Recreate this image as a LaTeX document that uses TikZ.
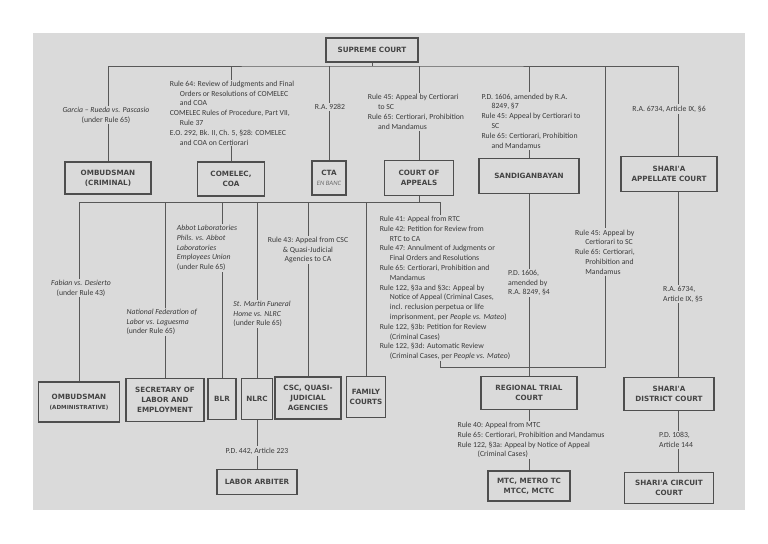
\documentclass[tikz,border=0pt]{standalone}
\usepackage{fontspec}
\setmainfont{Carlito}
\newfontfamily\boxfont{DejaVu Sans}
\definecolor{paper}{HTML}{DADADA}
\definecolor{ink}{HTML}{3A3A3A}
\newcommand{\hi}{\hspace*{1.3em}}

\begin{document}
\begin{tikzpicture}[
        x=0.75pt, y=-0.75pt,
        box/.style = {draw=ink!90, line width=1.1pt, fill=paper, align=center, inner sep=1pt, text=ink!95, font=\boxfont\bfseries\fontsize{5.4}{7.4}\selectfont},
        sz/.style 2 args = {minimum width=#1*0.75pt, minimum height=#2*0.75pt},
        lbl/.style = {fill=paper, inner sep=1pt, align=left, text=ink, font=\fontsize{5.8}{7.35}\selectfont},
        link/.style = {draw=ink!85, line width=0.7pt}
    ]

    \useasboundingbox (0,0) rectangle (768,543);
    \fill[white] (0,0) rectangle (768,543);
    \fill[paper] (33,33) rectangle (745,510);

    % courts
    \node[box, sz={92}{24}] (sc) at (372,50) {SUPREME COURT};
    \node[box, sz={86}{32}] (ombC) at (108,178) {OMBUDSMAN\\(CRIMINAL)};
    \node[box, sz={67}{34}] (comelec) at (231,179) {COMELEC,\\COA};
    \node[box, sz={34}{34}] (cta) at (329,178) {CTA\\{\normalfont\itshape\fontsize{5}{6}\selectfont\color{ink!75}EN BANC}};
    \node[box, sz={69}{35}] (ca) at (419,178) {COURT OF\\APPEALS};
    \node[box, sz={100}{35}] (sandigan) at (529,176) {SANDIGANBAYAN};
    \node[box, sz={96}{35}] (shariaApp) at (669,174) {SHARI'A\\APPELLATE COURT};

    \node[box, sz={81}{40}] (ombA) at (79,402) {OMBUDSMAN\\{\fontsize{4.2}{6}\selectfont (ADMINISTRATIVE)}};
    \node[box, sz={78}{43}] (secLabor) at (165,400) {SECRETARY OF\\LABOR AND\\EMPLOYMENT};
    \node[box, sz={28}{41}] (blr) at (222,399) {BLR};
    \node[box, sz={31}{41}] (nlrc) at (257,399) {NLRC};
    \node[box, sz={66}{42}] (csc) at (308,398) {CSC, QUASI-\\JUDICIAL\\AGENCIES};
    \node[box, sz={39}{41}] (family) at (366,397) {FAMILY\\COURTS};

    \node[box, sz={96}{33}] (rtc) at (529,393) {REGIONAL TRIAL\\COURT};
    \node[box, sz={82}{30}] (mtc) at (529,486) {MTC, METRO TC\\MTCC, MCTC};
    \node[box, sz={90}{33}] (shariaDist) at (669,394) {SHARI'A\\DISTRICT COURT};
    \node[box, sz={89}{31}] (shariaCirc) at (669,488) {SHARI'A CIRCUIT\\COURT};
    \node[box, sz={80}{25}] (laborArb) at (257,482) {LABOR ARBITER};

    % appeal paths
    \coordinate (topbus) at (372,66);
    \coordinate (cabus) at (419,202);
    \coordinate (brkL) at (440,367);
    \coordinate (brkR) at (605,367);
    \coordinate (shcol) at (678,0);

    \draw[link] (sc) -- (sc |- topbus);
    \draw[link] (ombC.north) |- (topbus) -| (shcol |- shariaApp.north);
    \foreach \court in {comelec, cta, ca, sandigan}
        \draw[link] (\court.north |- topbus) -- (\court.north);
    \draw[link] (brkR |- topbus) -- (brkR) -- (brkL) -- (brkL |- cabus);
    \draw[link] (ca) -- (ca |- cabus);
    \draw[link] (ombA.north) |- (brkL |- cabus);
    \foreach \court in {secLabor, blr, nlrc, csc, family}
        \draw[link] (\court.north |- cabus) -- (\court.north);
    \draw[link] (sandigan) -- (rtc);
    \draw[link] (rtc) -- (mtc);
    \draw[link] (nlrc) -- (laborArb);
    \draw[link] (shcol |- shariaApp.south) -- (shcol |- shariaDist.north);
    \draw[link] (shcol |- shariaDist.south) -- (shcol |- shariaCirc.north);

    % legal bases
    \node[lbl, align=center] (garcia) at (106,115) {\textit{Garcia -- Rueda vs. Pascasio}\\(under Rule 65)};
    \node[lbl] (comelecLbl) at (232,113) {Rule 64: Review of Judgments and Final\\\hi Orders or Resolutions of COMELEC\\\hi and COA\\COMELEC Rules of Procedure, Part VII,\\\hi Rule 37\\E.O. 292, Bk. II, Ch. 5, §28: COMELEC\\\hi and COA on Certiorari};
    \node[lbl] (raCTA) at (330,107) {R.A. 9282};
    \node[lbl] (caLbl) at (416,112) {Rule 45: Appeal by Certiorari\\\hi to SC\\Rule 65: Certiorari, Prohibition\\\hi and Mandamus};
    \node[lbl] (sandLbl) at (531,121) {P.D. 1606, amended by R.A.\\\hi 8249, §7\\Rule 45: Appeal by Certiorari to\\\hi SC\\Rule 65: Certiorari, Prohibition\\\hi and Mandamus};
    \node[lbl] (shAppLbl) at (669,109) {R.A. 6734, Article IX, §6};

    \node[lbl, align=center] (fabian) at (81,288) {\textit{Fabian vs. Desierto}\\(under Rule 43)};
    \node[lbl] (nfl) at (162,322) {\textit{National Federation of}\\\textit{Labor vs. Laguesma}\\(under Rule 65)};
    \node[lbl] (abbot) at (207,248) {\textit{Abbot Laboratories}\\\textit{Phils. vs. Abbot}\\\textit{Laboratories}\\\textit{Employees Union}\\(under Rule 65)};
    \node[lbl] (stMartin) at (262,314) {\textit{St. Martin Funeral}\\\textit{Home vs. NLRC}\\(under Rule 65)};
    \node[lbl, align=center] (rule43) at (308,250) {Rule 43: Appeal from CSC\\\& Quasi-Judicial\\Agencies to CA};
    \node[lbl] (rule41) at (445,288) {Rule 41: Appeal from RTC\\Rule 42: Petition for Review from\\\hi RTC to CA\\Rule 47: Annulment of Judgments or\\\hi Final Orders and Resolutions\\Rule 65: Certiorari, Prohibition and\\\hi Mandamus\\Rule 122, §3a and §3c: Appeal by\\\hi Notice of Appeal (Criminal Cases,\\\hi incl. reclusion perpetua or life\\\hi imprisonment, per \textit{People vs. Mateo})\\Rule 122, §3b: Petition for Review\\\hi (Criminal Cases)\\Rule 122, §3d: Automatic Review\\\hi (Criminal Cases, per \textit{People vs. Mateo})};
    \node[lbl] (pd1606b) at (529,283) {P.D. 1606,\\amended by\\R.A. 8249, §4};
    \node[lbl] (rule45b) at (605,252) {Rule 45: Appeal by\\\hi Certiorari to SC\\Rule 65: Certiorari,\\\hi Prohibition and\\\hi Mandamus};
    \node[lbl] (rule40) at (531,440) {Rule 40: Appeal from MTC\\Rule 65: Certiorari, Prohibition and Mandamus\\Rule 122, §3a: Appeal by Notice of Appeal\\\hi\hi (Criminal Cases)};
    \node[lbl] (ra6734b) at (683,294) {R.A. 6734,\\Article IX, §5};
    \node[lbl] (pd1083) at (676,440) {P.D. 1083,\\Article 144};
    \node[lbl] (pd442) at (257,451) {P.D. 442, Article 223};

\end{tikzpicture}
\end{document}
